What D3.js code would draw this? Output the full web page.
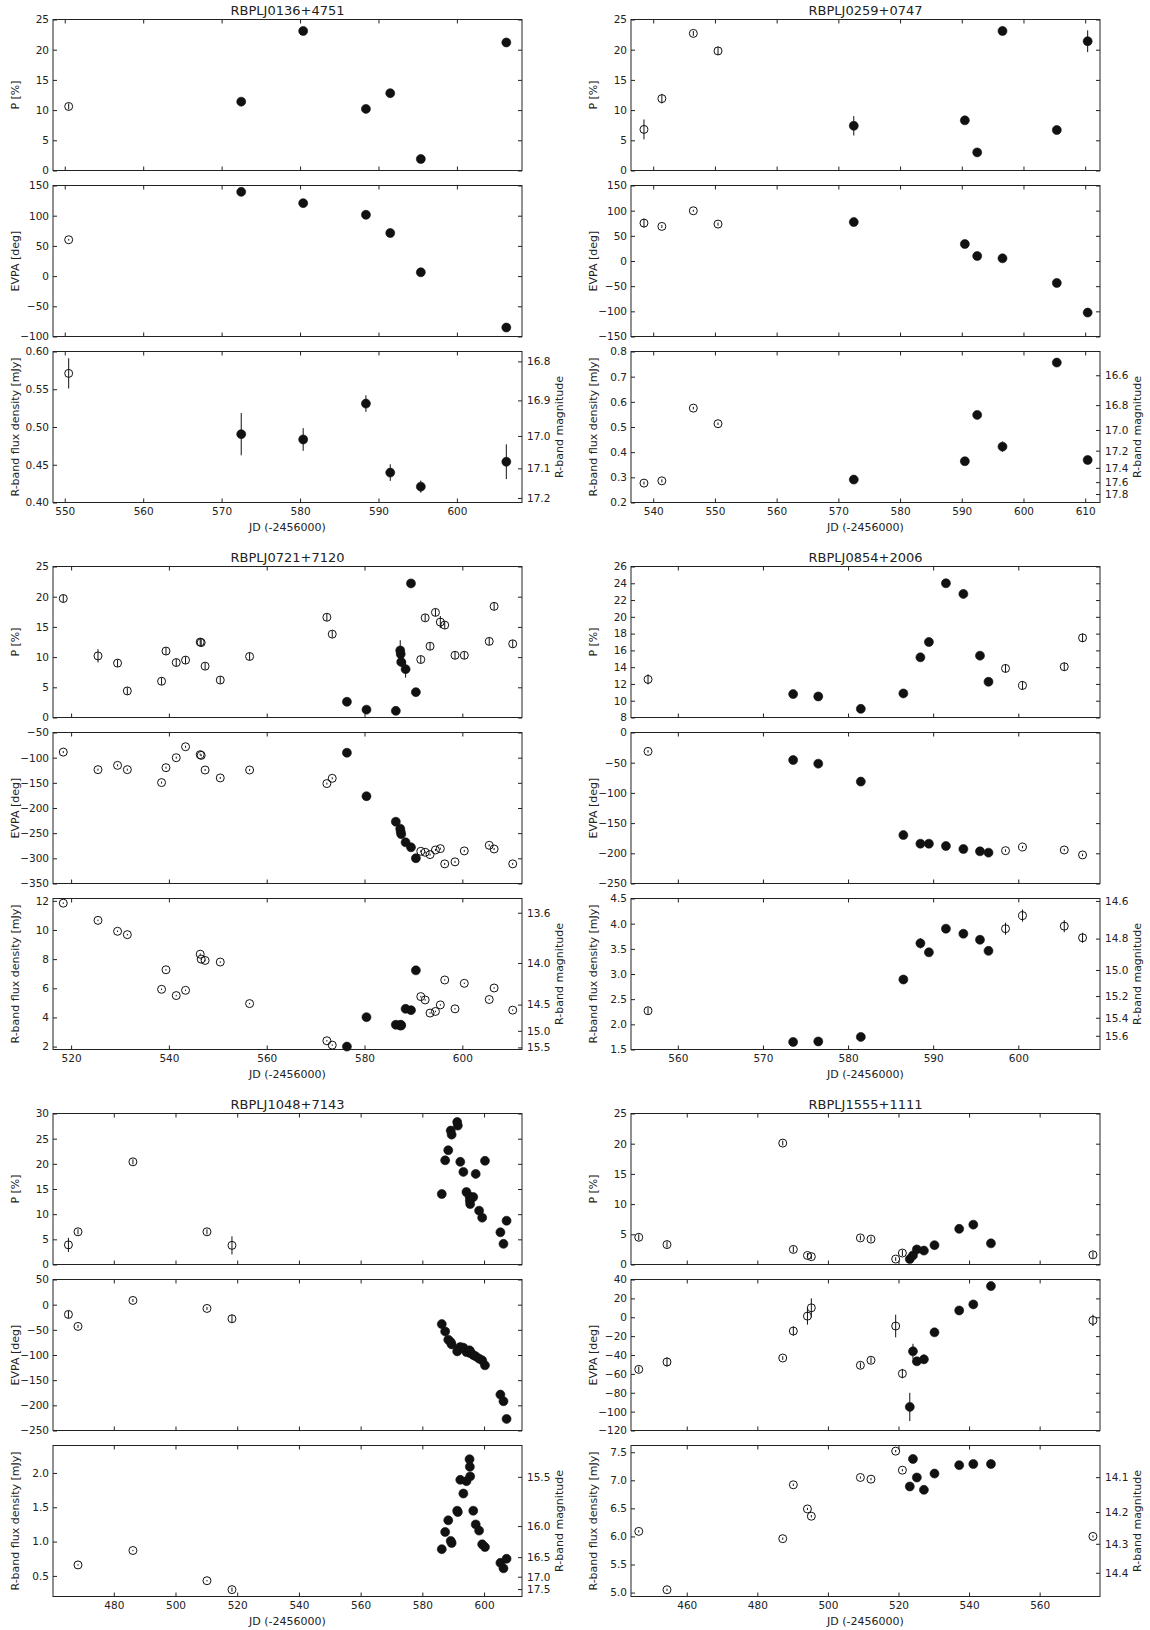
<!DOCTYPE html>
<html><head><meta charset="utf-8">
<script src="https://cdn.jsdelivr.net/npm/d3@7"></script>
<style>
body{margin:0;background:#fff;}
svg text{font-family:"DejaVu Sans",sans-serif;fill:#222;}
</style>
</head><body>
<svg id="c" width="1150" height="1630"></svg>
<script>
// ---------------- DATA ----------------
const titles=["RBPLJ0136+4751","RBPLJ0259+0747","RBPLJ0721+7120","RBPLJ0854+2006","RBPLJ1048+7143","RBPLJ1555+1111"];

// RBPLJ0136+4751
const jd0136=[550.5,572.5,580.4,588.4,591.5,595.4,606.3];
const p0136=[10.6,11.4,23.1,10.2,12.8,1.9,21.2];
const pErr0136=[0.5,0.4,0.4,0.4,0.7,0.3,0.4];
const evpa0136=[60.2,139.5,120.8,101.5,71.3,6.3,-85.1];
const evpaErr0136=[1.5,2,2,2,3,6,2];
const flux0136=[0.571,0.4905,0.4835,0.531,0.4396,0.421,0.454];
const fluxErr0136=[0.02,0.028,0.015,0.011,0.011,0.008,0.023];
const open0136=[1,0,0,0,0,0,0];

// RBPLJ0259+0747
const jd0259=[538.5,541.4,546.5,550.5,572.5,590.5,592.5,596.6,605.4,610.4];
const p0259=[6.8,11.9,22.7,19.8,7.4,8.3,3.0,23.1,6.7,21.4];
const pErr0259=[1.65,0.8,0.4,0.7,1.6,0.5,0.6,0.7,0.4,1.8];
const evpa0259=[75.3,68.7,99.8,73.3,77.3,33.7,9.9,5.3,-43.6,-102.5];
const evpaErr0259=[9,3,2,3,3,2,3,2,2,3];
const flux0259=[0.277,0.286,0.575,0.513,0.291,0.364,0.548,0.422,0.756,0.369];
const fluxErr0259=[0.006,0.006,0.005,0.005,0.006,0.008,0.006,0.02,0.008,0.008];
const open0259=[1,1,1,1,0,0,0,0,0,0];

// RBPLJ0721+7120
const jd0721=[518.4,525.5,529.5,531.5,538.5,539.4,541.5,543.4,546.4,546.6,547.4,550.5,556.5,572.3,573.4,576.4,580.4,586.4,587.3,587.4,587.5,588.4,589.5,590.5,591.5,592.4,593.4,594.5,595.5,596.4,598.5,600.4,605.5,606.5,610.3];
const p0721=[19.7,10.2,9.0,4.4,6.0,11.0,9.1,9.5,12.5,12.4,8.5,6.2,10.1,16.6,13.8,2.6,1.3,1.1,11.1,10.5,9.2,8.0,22.2,4.2,9.6,16.5,11.8,17.4,15.8,15.3,10.3,10.3,12.6,18.4,12.2];
const pErr0721=[0.6,1.1,0.6,0.6,0.6,0.6,0.6,0.6,0.6,0.6,0.6,0.6,0.6,0.6,0.6,0.3,0.3,0.3,1.7,0.8,0.8,1.4,0.4,0.3,0.6,0.6,0.6,0.6,1.0,0.6,0.6,0.6,0.6,0.6,0.6];
const evpa0721=[-88.9,-123.8,-115.3,-123.8,-149.5,-119.9,-100.1,-78.3,-94.0,-95.5,-124.5,-140.3,-124.5,-151.5,-141,-90.2,-176.6,-227.3,-241,-247,-252,-268.2,-278.1,-299.8,-286,-288,-292.6,-283.4,-280.7,-311,-307,-285.3,-274.1,-281.4,-311];
const evpaErr0721=[2,2,2,2,2,2,2,2,2,2,2,2,2,2,2,2,2,8,4,4,4,3,2,2,2,2,2,2,2,2,2,2,2,2,2];
const flux0721=[11.84,10.66,9.91,9.68,5.93,7.27,5.5,5.86,8.34,8.0,7.91,7.8,4.95,2.4,2.1,2.0,4.02,3.5,3.45,3.5,3.45,4.59,4.5,7.23,5.43,5.2,4.3,4.41,4.86,6.57,4.59,6.34,5.23,6.02,4.5];
const fluxErr0721=[0.05,0.05,0.05,0.05,0.05,0.05,0.05,0.05,0.05,0.05,0.05,0.05,0.05,0.05,0.05,0.05,0.05,0.05,0.05,0.05,0.05,0.05,0.05,0.05,0.05,0.05,0.05,0.05,0.05,0.05,0.05,0.05,0.05,0.05,0.05];
const open0721=[1,1,1,1,1,1,1,1,1,1,1,1,1,1,1,0,0,0,0,0,0,0,0,0,1,1,1,1,1,1,1,1,1,1,1];

// RBPLJ0854+2006
const jd0854=[556.5,573.55,576.5,581.5,586.5,588.5,589.5,591.5,593.55,595.5,596.5,598.5,600.5,605.4,607.55];
const p0854=[12.54,10.79,10.51,9.03,10.87,15.17,17.0,24.0,22.73,15.37,12.26,13.85,11.82,14.05,17.5];
const pErr0854=[0.6,0.3,0.3,0.3,0.3,0.4,0.4,0.4,0.5,0.3,0.3,0.5,0.5,0.5,0.5];
const evpa0854=[-31.3,-45.6,-51.6,-81.3,-169.8,-184.1,-184.1,-187.9,-192.9,-196.7,-198.9,-195.6,-189.6,-194.5,-202.7];
const evpaErr0854=[2,1.5,1.5,1.5,1.5,1.5,1.5,1.5,1.5,1.5,1.5,2,2,2,2];
const flux0854=[2.27,1.65,1.66,1.75,2.89,3.61,3.43,3.9,3.8,3.68,3.46,3.9,4.16,3.95,3.72];
const fluxErr0854=[0.06,0.07,0.05,0.05,0.05,0.1,0.08,0.08,0.08,0.08,0.08,0.12,0.12,0.12,0.1];
const open0854=[1,0,0,0,0,0,0,0,0,0,0,1,1,1,1];

// RBPLJ1048+7143
const jd1048=[465.3,468.4,486.2,510.2,518.3,586.3,587.4,588.4,589.2,589.5,591.3,591.5,592.3,593.3,594.3,595.3,595.4,595.5,596.5,597.3,598.4,599.4,600.3,605.3,606.3,607.3];
const p1048=[3.9,6.5,20.4,6.5,3.8,14.0,20.7,22.7,26.6,25.8,28.3,27.6,20.4,18.4,14.4,13.5,12.7,12.0,13.4,18.0,10.7,9.3,20.6,6.4,4.1,8.7];
const pErr1048=[1.4,0.5,0.5,0.5,1.8,0.4,0.4,0.4,0.8,0.4,0.4,0.4,0.4,0.4,0.4,0.4,0.4,0.4,0.4,0.4,0.4,0.4,0.4,0.4,0.4,0.4];
const evpa1048=[-19.4,-43.2,8.4,-7.5,-28,-38.6,-53.1,-69.6,-74.3,-78.9,-92.8,-90,-84.2,-85.5,-94.1,-90.8,-96.1,-93,-100,-102.7,-107.3,-110.6,-120.5,-178.7,-191.9,-227];
const evpaErr1048=[7,3,3,3,8,2,2,2,2,2,2,2,2,2,2,2,2,2,2,2,2,2,2,2,2,2];
const flux1048=[null,0.66,0.87,0.43,0.3,0.89,1.14,1.31,1.01,0.98,1.45,1.43,1.90,1.70,1.88,2.20,2.09,1.95,1.45,1.25,1.16,0.96,0.92,0.69,0.61,0.75];
const fluxErr1048=[0,0.01,0.01,0.01,0.03,0.02,0.02,0.02,0.02,0.02,0.03,0.03,0.03,0.04,0.03,0.05,0.04,0.04,0.04,0.04,0.03,0.02,0.02,0.02,0.02,0.02];
const open1048=[1,1,1,1,1,0,0,0,0,0,0,0,0,0,0,0,0,0,0,0,0,0,0,0,0,0];

// RBPLJ1555+1111
const jd1555=[446.4,454.4,487.2,490.2,494.2,495.3,509.2,512.2,519.2,521.1,523.2,524.1,525.2,527.2,530.2,537.2,541.2,546.2,575.1];
const p1555=[4.5,3.3,20.1,2.5,1.5,1.3,4.4,4.2,0.9,1.9,0.9,1.5,2.5,2.3,3.2,5.9,6.6,3.5,1.6];
const pErr1555=[0.5,0.5,0.4,0.5,0.4,0.4,0.4,0.4,0.3,0.5,0.3,0.3,0.3,0.3,0.3,0.3,0.3,0.3,0.5];
const evpa1555=[-55.2,-47.4,-43.2,-14.6,1.2,10.0,-50.9,-45.6,-9.3,-59.7,-95,-36.1,-46.7,-44.6,-16,7.2,13.6,33,-3.3];
const evpaErr1555=[3,5,2,5,9,10,3,3,12,5,15,8,3,5,3,2,2,2,6];
const flux1555=[6.09,5.05,5.96,6.92,6.49,6.36,7.05,7.02,7.52,7.18,6.89,7.38,7.05,6.83,7.12,7.27,7.29,7.29,6.0];
const fluxErr1555=[0.02,0.02,0.02,0.02,0.02,0.02,0.02,0.02,0.02,0.02,0.02,0.02,0.02,0.02,0.02,0.02,0.02,0.02,0.02];
const open1555=[1,1,1,1,1,1,1,1,1,1,0,0,0,0,0,0,0,0,1];

// Axes ranges and ticks
const xDomains=[[548.5,608.3],[536.4,612.4],[516.3,612.2],[554.5,609.6],[460.3,612.3],[444.2,577.1]];
const xTickVals=[[550,560,570,580,590,600],[540,550,560,570,580,590,600,610],[520,540,560,580,600],[560,570,580,590,600],[480,500,520,540,560,580,600],[460,480,500,520,540,560]];
const pDomains=[[0,25],[0,25],[0,25],[8,26],[0,30],[0,25]];
const pTickVals=[[0,5,10,15,20,25],[0,5,10,15,20,25],[0,5,10,15,20,25],[8,10,12,14,16,18,20,22,24,26],[0,5,10,15,20,25,30],[0,5,10,15,20,25]];
const evpaDomains=[[-100,150],[-150,150],[-350,-50],[-250,0],[-250,50],[-120,40]];
const evpaTickVals=[[-100,-50,0,50,100,150],[-150,-100,-50,0,50,100,150],[-350,-300,-250,-200,-150,-100,-50],[-250,-200,-150,-100,-50,0],[-250,-200,-150,-100,-50,0,50],[-120,-100,-80,-60,-40,-20,0,20,40]];
const fluxDomains=[[0.40,0.60],[0.2,0.8],[1.8,12.16],[1.5,4.5],[0.2,2.4],[4.93,7.62]];
const fluxTickVals=[[0.40,0.45,0.50,0.55,0.60],[0.2,0.3,0.4,0.5,0.6,0.7,0.8],[2,4,6,8,10,12],[1.5,2.0,2.5,3.0,3.5,4.0,4.5],[0.5,1.0,1.5,2.0],[5.0,5.5,6.0,6.5,7.0,7.5]];
const fluxDecimals=[2,1,0,1,1,1];
const magTickVals=[[16.8,16.9,17.0,17.1,17.2],[16.6,16.8,17.0,17.2,17.4,17.6,17.8],[13.6,14.0,14.5,15.0,15.5],[14.6,14.8,15.0,15.2,15.4,15.6],[15.5,16.0,16.5,17.0,17.5],[14.1,14.2,14.3,14.4]];
const R_ZERO_MJY=3.08e6; // R-band zero point (mJy)

// ---------------- LAYOUT ----------------
const colX=[[53,522],[631,1100]];
const rowTop=[19.5,566.5,1113.5];
const PH=151, OFF=[0,166,332];
const TICK=4;
const magToFlux=m=>R_ZERO_MJY*Math.pow(10,-0.4*m);
const minus=s=>s.replace(/-/g,"\u2212");
const fmtDec=d=>v=>minus(d3.format("."+d+"f")(v));

const sources=titles.map((t,i)=>{
  const keys=["0136","0259","0721","0854","1048","1555"][i];
  const A={"0136":[jd0136,p0136,pErr0136,evpa0136,evpaErr0136,flux0136,fluxErr0136,open0136],
           "0259":[jd0259,p0259,pErr0259,evpa0259,evpaErr0259,flux0259,fluxErr0259,open0259],
           "0721":[jd0721,p0721,pErr0721,evpa0721,evpaErr0721,flux0721,fluxErr0721,open0721],
           "0854":[jd0854,p0854,pErr0854,evpa0854,evpaErr0854,flux0854,fluxErr0854,open0854],
           "1048":[jd1048,p1048,pErr1048,evpa1048,evpaErr1048,flux1048,fluxErr1048,open1048],
           "1555":[jd1555,p1555,pErr1555,evpa1555,evpaErr1555,flux1555,fluxErr1555,open1555]}[keys];
  return {title:t,jd:A[0],p:A[1],pe:A[2],ev:A[3],eve:A[4],f:A[5],fe:A[6],open:A[7]};
});

const svg=d3.select("#c");

function styleAxis(g,size){
  g.attr("font-family","DejaVu Sans, sans-serif").attr("font-size",size);
  g.select(".domain").remove();
  g.selectAll(".tick line").attr("stroke","#222").attr("stroke-width",1);
  g.selectAll(".tick text").attr("fill","#222");
}

function drawPanel(x,y,vals,errs,open,yTicks,yFmt,opts){
  const g=svg.append("g");
  const [x0,x1]=x.range(), [yb,yt]=y.range();
  // x ticks bottom & top (inward)
  const bx=g.append("g").attr("transform",`translate(0,${yb})`)
    .call(d3.axisBottom(x).tickValues(opts.xTicks).tickSize(-TICK).tickPadding(5)
      .tickFormat(opts.showX?d3.format("d"):""));
  styleAxis(bx,10.5);
  const tx=g.append("g").attr("transform",`translate(0,${yt})`)
    .call(d3.axisTop(x).tickValues(opts.xTicks).tickSize(-TICK).tickFormat(""));
  styleAxis(tx,10.5);
  // y ticks left
  const ly=g.append("g").attr("transform",`translate(${x0},0)`)
    .call(d3.axisLeft(y).tickValues(yTicks).tickSize(-TICK).tickPadding(4).tickFormat(yFmt));
  styleAxis(ly,10.5);
  if(opts.mag){
    const mt=opts.mag;
    const ry=g.append("g").attr("transform",`translate(${x1},0)`)
      .call(d3.axisRight(y).tickValues(mt.map(magToFlux)).tickSize(-TICK).tickPadding(5)
        .tickFormat((d,i)=>d3.format(".1f")(mt[i])));
    styleAxis(ry,10.5);
  } else {
    const ry=g.append("g").attr("transform",`translate(${x1},0)`)
      .call(d3.axisRight(y).tickValues(yTicks).tickSize(-TICK).tickFormat(""));
    styleAxis(ry,10.5);
  }
  // frame
  g.append("rect").attr("x",x0).attr("y",yt).attr("width",x1-x0).attr("height",yb-yt)
    .attr("fill","none").attr("stroke","#222").attr("stroke-width",1);
  // data
  const pts=opts.jd.map((d,i)=>({x:d,y:vals[i],e:errs[i],o:open[i]})).filter(d=>d.y!==null&&d.y!==undefined);
  g.append("g").selectAll("line").data(pts).join("line")
    .attr("x1",d=>x(d.x)).attr("x2",d=>x(d.x))
    .attr("y1",d=>y(d.y-d.e)).attr("y2",d=>y(d.y+d.e))
    .attr("stroke","#111").attr("stroke-width",1);
  g.append("g").selectAll("circle").data(pts).join("circle")
    .attr("cx",d=>x(d.x)).attr("cy",d=>y(d.y))
    .attr("r",d=>d.o?4:4.5)
    .attr("fill",d=>d.o?"none":"#111")
    .attr("stroke","#111").attr("stroke-width",d=>d.o?1:0.6);
  // y label
  const lx=opts.leftLabelX;
  svg.append("text").attr("transform",`translate(${lx},${(yb+yt)/2}) rotate(-90)`)
    .attr("text-anchor","middle").attr("dominant-baseline","central").attr("font-size",11).text(opts.ylabel);
  if(opts.mag){
    svg.append("text").attr("transform",`translate(${x1+37},${(yb+yt)/2}) rotate(-90)`)
      .attr("text-anchor","middle").attr("dominant-baseline","central").attr("font-size",11).text("R-band magnitude");
  }
}

sources.forEach((s,i)=>{
  const row=Math.floor(i/2), col=i%2;
  const [x0,x1]=colX[col];
  const T=rowTop[row];
  const x=d3.scaleLinear().domain(xDomains[i]).range([x0,x1]);
  // title
  svg.append("text").attr("x",(x0+x1)/2).attr("y",T-5).attr("text-anchor","middle")
    .attr("font-size",13).text(s.title);
  const yP=d3.scaleLinear().domain(pDomains[i]).range([T+OFF[0]+PH,T+OFF[0]]);
  drawPanel(x,yP,s.p,s.pe,s.open,pTickVals[i],fmtDec(0),
    {xTicks:xTickVals[i],showX:false,jd:s.jd,ylabel:"P [%]",leftLabelX:x0-38});
  const yE=d3.scaleLinear().domain(evpaDomains[i]).range([T+OFF[1]+PH,T+OFF[1]]);
  drawPanel(x,yE,s.ev,s.eve,s.open,evpaTickVals[i],fmtDec(0),
    {xTicks:xTickVals[i],showX:false,jd:s.jd,ylabel:"EVPA [deg]",leftLabelX:x0-38});
  const yF=d3.scaleLinear().domain(fluxDomains[i]).range([T+OFF[2]+PH,T+OFF[2]]);
  drawPanel(x,yF,s.f,s.fe,s.open,fluxTickVals[i],fmtDec(fluxDecimals[i]),
    {xTicks:xTickVals[i],showX:true,jd:s.jd,ylabel:"R-band flux density [mJy]",leftLabelX:x0-38,mag:magTickVals[i]});
  svg.append("text").attr("x",(x0+x1)/2).attr("y",T+OFF[2]+PH+28).attr("text-anchor","middle")
    .attr("font-size",11).text("JD (-2456000)");
});
</script>
</body></html>
